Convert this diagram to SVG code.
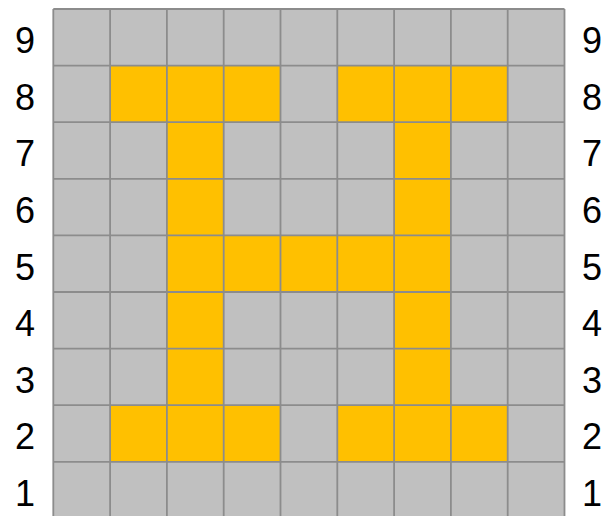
<svg xmlns="http://www.w3.org/2000/svg" width="602" height="516" viewBox="0 0 602 516">
<style>
.g{fill:#c0c0c0}
.y{fill:#ffc000}
.l{stroke:#8c8c8c;stroke-width:1.8;fill:none}
.t{font-family:"Liberation Sans",Arial,sans-serif;font-size:36px;fill:#000;text-anchor:middle}
</style>
<rect width="602" height="516" fill="#ffffff"/>
<g id="grid">
<rect class="g" x="53.3" y="9" width="511" height="509.4"/>
<g id="yellow">
<rect class="y" x="110.1" y="65.6" width="170.4" height="56.6"/>
<rect class="y" x="337.3" y="65.6" width="170.4" height="56.6"/>
<rect class="y" x="166.9" y="122.2" width="56.8" height="339.6"/>
<rect class="y" x="394.1" y="122.2" width="56.8" height="339.6"/>
<rect class="y" x="166.9" y="235.4" width="284" height="56.6"/>
<rect class="y" x="110.1" y="405.2" width="170.4" height="56.6"/>
<rect class="y" x="337.3" y="405.2" width="170.4" height="56.6"/>
</g>
</g>
<g id="connectors">
<path class="l" d="M53.3 9V518M110.1 9V518M166.9 9V518M223.7 9V518M280.5 9V518M337.3 9V518M394.1 9V518M450.9 9V518M507.7 9V518M564.5 9V518"/>
<path class="l" d="M53.3 9H564.5M53.3 65.6H564.5M53.3 122.2H564.5M53.3 178.8H564.5M53.3 235.4H564.5M53.3 292H564.5M53.3 348.6H564.5M53.3 405.2H564.5M53.3 461.8H564.5"/>
</g>
<g id="labels-left">
<text class="t" x="25" y="53">9</text>
<text class="t" x="25" y="110">8</text>
<text class="t" x="25" y="166">7</text>
<text class="t" x="25" y="223">6</text>
<text class="t" x="25" y="280">5</text>
<text class="t" x="25" y="336">4</text>
<text class="t" x="25" y="393">3</text>
<text class="t" x="25" y="449">2</text>
<text class="t" x="25" y="506">1</text>
</g>
<g id="labels-right">
<text class="t" x="592" y="53">9</text>
<text class="t" x="592" y="110">8</text>
<text class="t" x="592" y="166">7</text>
<text class="t" x="592" y="223">6</text>
<text class="t" x="592" y="280">5</text>
<text class="t" x="592" y="336">4</text>
<text class="t" x="592" y="393">3</text>
<text class="t" x="592" y="449">2</text>
<text class="t" x="592" y="506">1</text>
</g>
</svg>
